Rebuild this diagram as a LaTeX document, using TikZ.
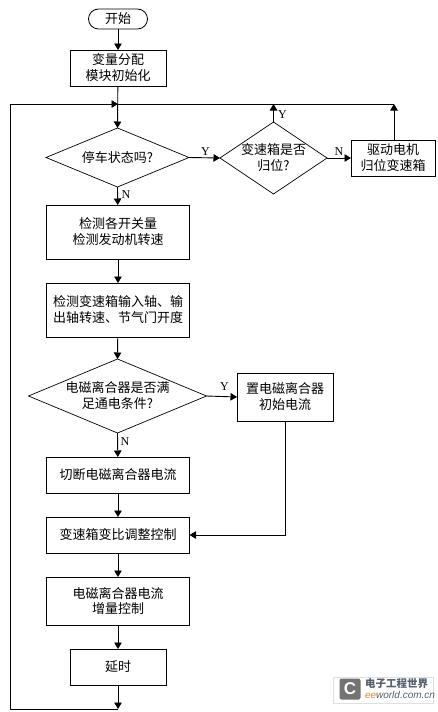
\documentclass[tikz,border=0pt]{standalone}
\usepackage{fontspec}
\usetikzlibrary{arrows.meta,shapes.geometric,shapes.misc}
\setmainfont{Noto Sans CJK SC}
\newfontfamily\latinf{Liberation Serif}
\newfontfamily\logof{Liberation Sans}
\definecolor{logoblue}{HTML}{55606E}
\definecolor{logoorange}{HTML}{E08A2C}
\tikzset{
  x=1pt,y=-1pt,
  every node/.style={font=\fontsize{13}{16}\selectfont,inner sep=0pt,outer sep=0pt,align=center},
  bx/.style={draw,line width=.9pt,rectangle},
  dm/.style={draw,line width=.7pt,diamond,aspect=1},
  tm/.style={draw,line width=.8pt,rounded rectangle,minimum width=59pt,minimum height=20pt},
  ln/.style={line width=.9pt},
  ar/.style={ln,-{Triangle[length=6.5pt,width=7.5pt]}},
  lb/.style={font=\latinf\fontsize{12}{12}\selectfont}
}
\begin{document}
\begin{tikzpicture}
\useasboundingbox[fill=white] (0,0) rectangle (437,712);
% boxes
\node[tm] (s) at (118,19) {开始};
\node[bx,minimum width=96pt,minimum height=36pt] (init) at (118,68) {变量分配\\模块初始化};
\coordinate (busj) at (118,104);
\coordinate (bus2) at (273.5,104);
\coordinate (bus3) at (394,104);
\coordinate (botj) at (118,709);
\coordinate (botl) at (10,709);
\coordinate (topl) at (10,104);
% diamonds drawn as paths with named nodes
\node[minimum width=143pt,minimum height=59pt] (d1) at (117.5,157.5) {停车状态吗?};
\draw[line width=.7pt] (d1.west) -- (d1.north) -- (d1.east) -- (d1.south) -- cycle;
\node[minimum width=107pt,minimum height=72pt] (d2) at (273.5,158) {变速箱是否\\归位?};
\draw[line width=.7pt] (d2.west) -- (d2.north) -- (d2.east) -- (d2.south) -- cycle;
\node[bx,minimum width=84pt,minimum height=36pt] (m) at (393,158) {驱动电机\\归位变速箱};
\node[bx,minimum width=143pt,minimum height=54pt] (c1) at (118,232) {检测各开关量\\检测发动机转速};
\node[bx,minimum width=143pt,minimum height=54pt] (c2) at (118,310) {检测变速箱输入轴、输\\出轴转速、节气门开度};
\node[minimum width=178pt,minimum height=74pt] (d3) at (117.5,396) {电磁离合器是否满\\足通电条件?};
\draw[line width=.7pt] (d3.west) -- (d3.north) -- (d3.east) -- (d3.south) -- cycle;
\node[bx,minimum width=96pt,minimum height=48pt] (set) at (285,397) {置电磁离合器\\初始电流};
\node[bx,minimum width=143pt,minimum height=36pt] (cut) at (118,475) {切断电磁离合器电流};
\node[bx,minimum width=143pt,minimum height=36pt] (adj) at (118,535) {变速箱变比调整控制};
\node[bx,minimum width=143pt,minimum height=48pt] (cur) at (118,601) {电磁离合器电流\\增量控制};
\node[bx,minimum width=96pt,minimum height=36pt] (del) at (118,667) {延时};
% connectors
\draw[ar] (s) -- (init);
\draw[ar] (init) -- (d1.north);
\draw[ln] (bus3) -- (busj);
\draw[ar] (d1.south) -- (c1);
\draw[ar] (c1) -- (c2);
\draw[ar] (c2) -- (d3.north);
\draw[ar] (d3.south) -- (cut);
\draw[ar] (cut) -- (adj);
\draw[ar] (adj) -- (cur);
\draw[ar] (cur) -- (del);
\draw[ar] (del) -- (botj);
\draw[ar] (botj) -- (botl) -- (topl) -- (busj);
\draw[ar] (d1.east) -- (d2.west);
\draw[ar] (d2.east) -- (m.west);
\draw[ar] (d2.north) -- (bus2);
\draw[ar] (m.north -| bus3) -- (bus3);
\draw[ar] (d3.east) -- (set.west);
\draw[ar] (set.south) |- (adj.east);
% branch labels
\node[lb] (ly1) at (205.5,152) {Y};
\node[lb] (ly2) at (282.5,115) {Y};
\node[lb] (ln2) at (339,152) {N};
\node[lb] (ln1) at (126,195) {N};
\node[lb] (ly3) at (224.5,387) {Y};
\node[lb] (ln3) at (125,442) {N};
% logo
\draw[draw=black!12,line width=.5pt] (333,677) rectangle (433,703);
\node[fill=black!55,rounded corners=2pt,minimum width=21pt,minimum height=21pt,text=white,font=\logof\bfseries\fontsize{17}{17}\selectfont] (lg) at (350,689) {C};
\node[anchor=west,text=logoblue,font=\bfseries\fontsize{10.5}{11}\selectfont] (lg1) at (365,683.5) {电子工程世界};
\node[anchor=west,text=logoblue,font=\logof\itshape\fontsize{10}{10}\selectfont] (lg2) at (365,695) {\textcolor{logoorange}{ee}world.com.cn};
\end{tikzpicture}
\end{document}
